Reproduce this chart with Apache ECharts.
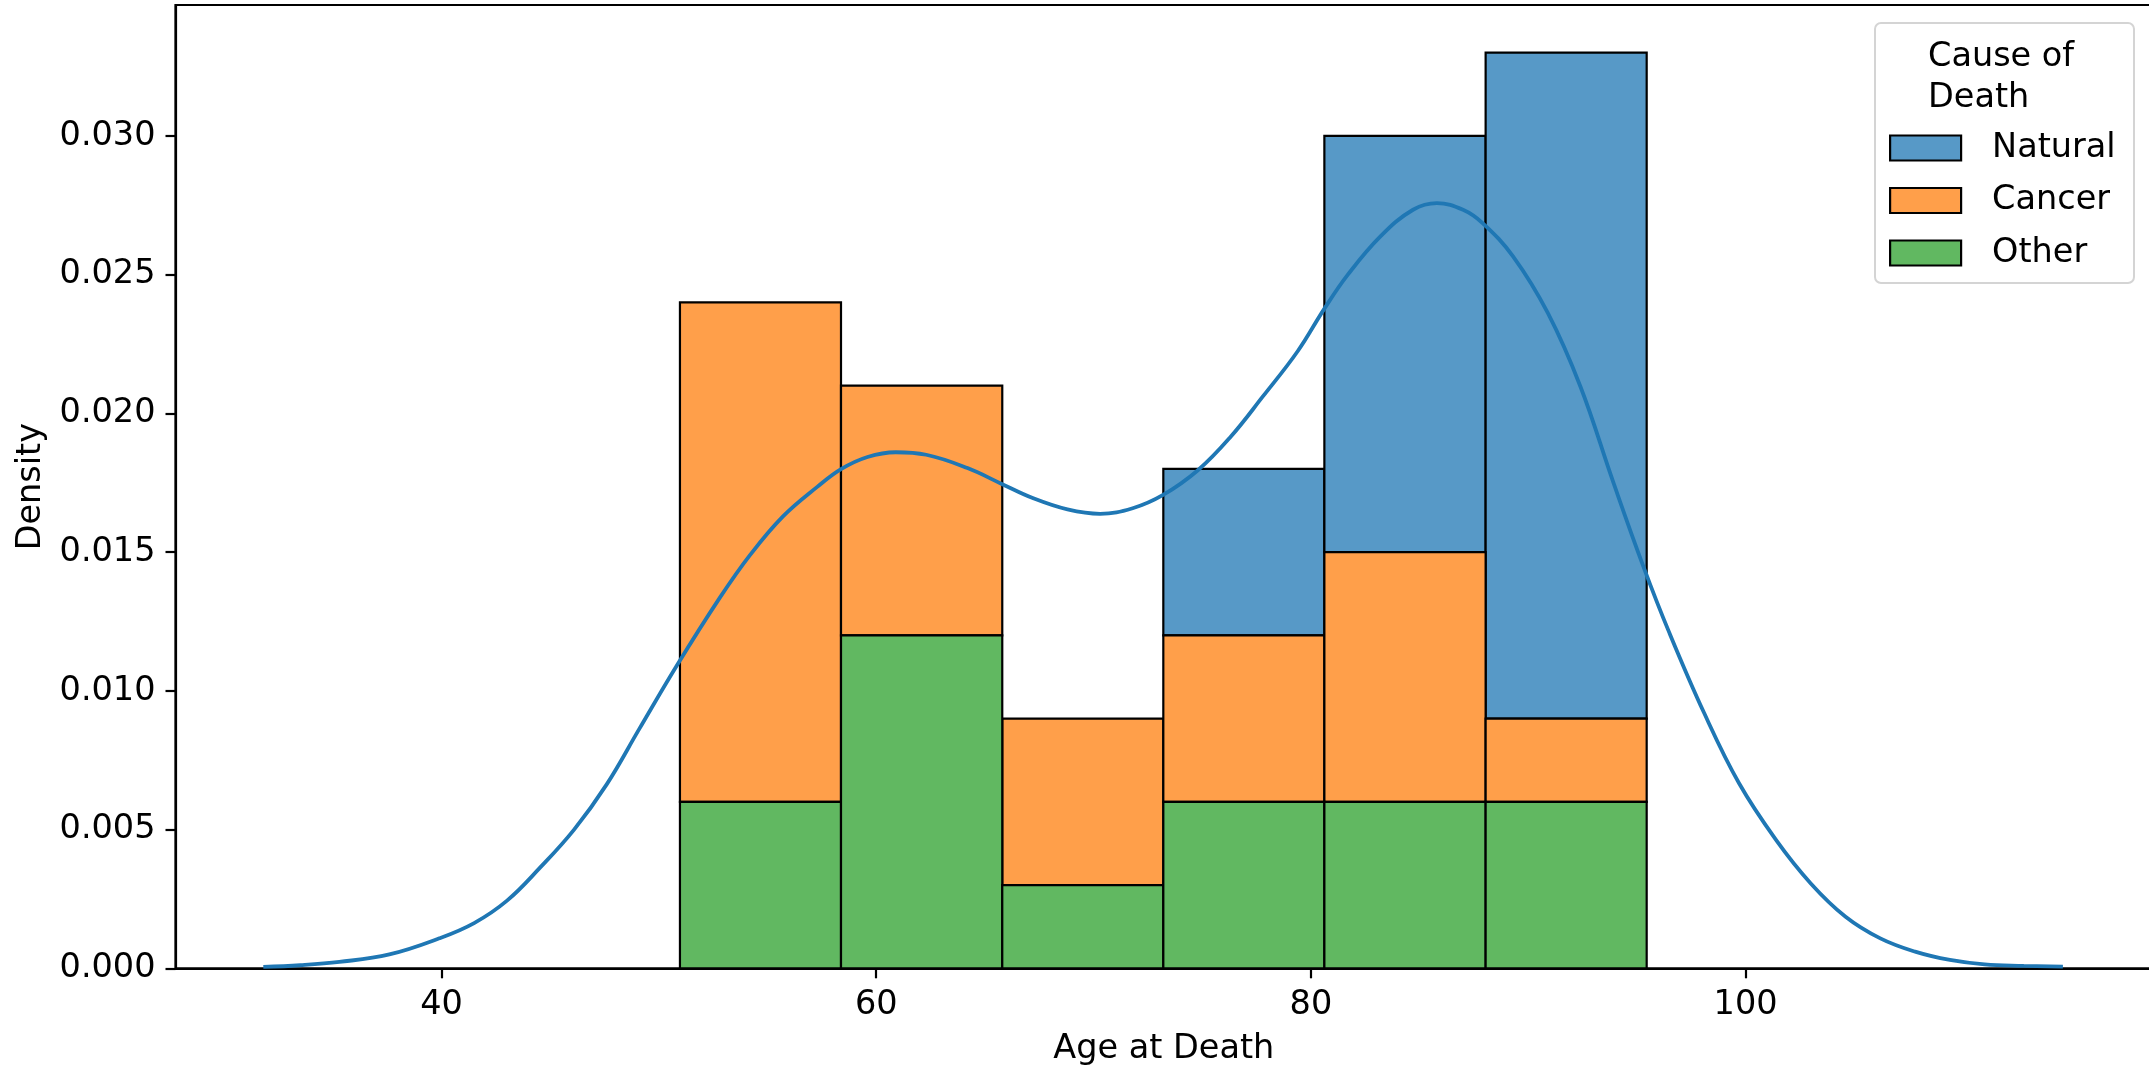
<!DOCTYPE html>
<html>
<head>
<meta charset="utf-8">
<style>html,body{margin:0;padding:0;background:#fff;}#c{width:2149px;height:1066px;}</style>
<script src="https://cdn.jsdelivr.net/npm/echarts@6/dist/echarts.min.js"></script>
</head>
<body>
<div id="c"></div>
<script>
// ---- data ----
const binEdges = [50.97, 58.38, 65.80, 73.21, 80.62, 88.04, 95.45];
const otherDensity   = [0.006, 0.012, 0.003, 0.006, 0.006, 0.006];
const cancerDensity  = [0.018, 0.009, 0.006, 0.006, 0.009, 0.003];
const naturalDensity = [0.000, 0.000, 0.000, 0.006, 0.015, 0.024];
const causeNames = ['Natural', 'Cancer', 'Other'];
const kdeX = [31.8, 33.5, 35.3, 37.6, 39.9, 41.5, 43.0, 44.5, 46.1, 47.6, 49.1, 50.8, 52.8, 54.2, 55.7, 57.3, 58.4, 59.6, 60.9, 62.3, 64.2, 65.8, 67.2, 68.8, 70.3, 71.8, 73.2, 74.8, 76.3, 77.8, 79.4, 80.6, 81.7, 83.2, 84.7, 85.8, 87.0, 87.9, 89.3, 90.9, 92.4, 93.9, 95.3, 96.5, 98.1, 99.7, 101.4, 103.0, 104.6, 106.2, 107.8, 109.4, 111.0, 112.8, 114.6];
const kdeY = [0.00005, 0.00011, 0.00023, 0.00050, 0.00108, 0.00163, 0.00243, 0.00360, 0.00500, 0.00663, 0.00863, 0.01088, 0.01335, 0.01490, 0.01628, 0.01736, 0.01800, 0.01843, 0.01860, 0.01851, 0.01803, 0.01745, 0.01695, 0.01654, 0.01638, 0.01658, 0.01706, 0.01795, 0.01915, 0.02062, 0.02225, 0.02375, 0.02500, 0.02638, 0.02734, 0.02758, 0.02734, 0.02686, 0.02566, 0.02362, 0.02097, 0.01755, 0.01448, 0.01208, 0.00919, 0.00667, 0.00463, 0.00306, 0.00186, 0.00108, 0.00060, 0.00030, 0.00014, 0.00009, 0.00006];
const xTicks = [40, 60, 80, 100];
const yTicks = [0, 0.005, 0.010, 0.015, 0.020, 0.025, 0.030];

// ---- styling ----
const FONT = 'DejaVu Sans';
const colors = { Natural: '#5799c7', Cancer: '#ff9f4a', Other: '#61b861' };

// build stacked rect data: bottom-to-top = Other, Cancer, Natural
function stackData(vals, bases) {
  return vals.map((v, i) => [binEdges[i], binEdges[i + 1], bases[i], bases[i] + v]);
}
const zeros = otherDensity.map(() => 0);
const baseCancer = otherDensity.slice();
const baseNatural = otherDensity.map((v, i) => v + cancerDensity[i]);
const stacks = {
  Other: stackData(otherDensity, zeros),
  Cancer: stackData(cancerDensity, baseCancer),
  Natural: stackData(naturalDensity, baseNatural)
};

function rectSeries(name) {
  return {
    type: 'custom',
    name: name,
    data: stacks[name],
    encode: { x: [0, 1], y: [2, 3] },
    itemStyle: { color: colors[name], borderColor: '#000', borderWidth: 2.2 },
    z: 2,
    renderItem: function (params, api) {
      const y0 = api.value(2), y1 = api.value(3);
      if (y1 - y0 <= 0) return null;
      const p0 = api.coord([api.value(0), y0]);
      const p1 = api.coord([api.value(1), y1]);
      return {
        type: 'rect',
        shape: { x: p0[0], y: p1[1], width: p1[0] - p0[0], height: p0[1] - p1[1] },
        style: { fill: colors[name], stroke: '#000', lineWidth: 2.2 }
      };
    }
  };
}

const chart = echarts.init(document.getElementById('c'), null, { renderer: 'canvas' });
chart.setOption({
  animation: false,
  backgroundColor: '#fff',
  textStyle: { fontFamily: FONT, color: '#000' },
  grid: { left: 175.5, top: 5, right: -3, bottom: 97.7, show: true, borderColor: '#000', borderWidth: 2.2, containLabel: false, outerBoundsMode: 'none' },
  title: {
    text: 'Cause of\nDeath', left: 1928, top: 37, padding: 0, z: 10,
    textStyle: { fontFamily: FONT, fontSize: 33.5, fontWeight: 'normal', color: '#000', lineHeight: 41 }
  },
  graphic: [{
    type: 'rect', z: 3, silent: true,
    shape: { x: 1875, y: 23, width: 259, height: 260, r: 6 },
    style: { fill: 'rgba(255,255,255,0.85)', stroke: '#d4d4d4', lineWidth: 2 }
  }],
  legend: {
    orient: 'vertical', left: 1889, top: 128, padding: 0, z: 10,
    itemWidth: 71, itemHeight: 25, itemGap: 12.5, icon: 'rect',
    textStyle: { fontFamily: FONT, fontSize: 33.5, color: '#000', lineHeight: 40, padding: [0, 0, 0, 26] },
    data: causeNames.map(n => ({ name: n, icon: 'rect', itemStyle: { color: colors[n], borderColor: '#000', borderWidth: 2.2 } }))
  },
  xAxis: {
    type: 'value', min: 27.76, max: 118.7,
    name: 'Age at Death', nameLocation: 'middle', nameGap: 64,
    nameTextStyle: { fontFamily: FONT, fontSize: 33.5, color: '#000' },
    axisLine: { show: true, onZero: false, lineStyle: { color: '#000', width: 2.2 } },
    axisTick: { show: true, length: 10, lineStyle: { color: '#000', width: 2.2 }, customValues: xTicks },
    axisLabel: { fontFamily: FONT, fontSize: 33.5, color: '#000', margin: 20, customValues: xTicks },
    splitLine: { show: false }
  },
  yAxis: {
    type: 'value', min: 0, max: 0.03472,
    name: 'Density', nameLocation: 'middle', nameGap: 127, nameRotate: 90,
    nameTextStyle: { fontFamily: FONT, fontSize: 33.5, color: '#000' },
    axisLine: { show: true, lineStyle: { color: '#000', width: 2.2 } },
    axisTick: { show: true, length: 10, lineStyle: { color: '#000', width: 2.2 }, customValues: yTicks },
    axisLabel: { fontFamily: FONT, fontSize: 33.5, color: '#000', margin: 20, customValues: yTicks, formatter: v => v.toFixed(3) },
    splitLine: { show: false }
  },
  series: [
    rectSeries('Natural'),
    rectSeries('Cancer'),
    rectSeries('Other'),
    {
      type: 'line', name: 'kde', data: kdeX.map((x, i) => [x, kdeY[i]]),
      showSymbol: false, symbol: 'none', smooth: 0.4, z: 5,
      lineStyle: { color: '#1f77b4', width: 3.8 }, itemStyle: { color: '#1f77b4' }
    }
  ]
});
</script>
</body>
</html>
